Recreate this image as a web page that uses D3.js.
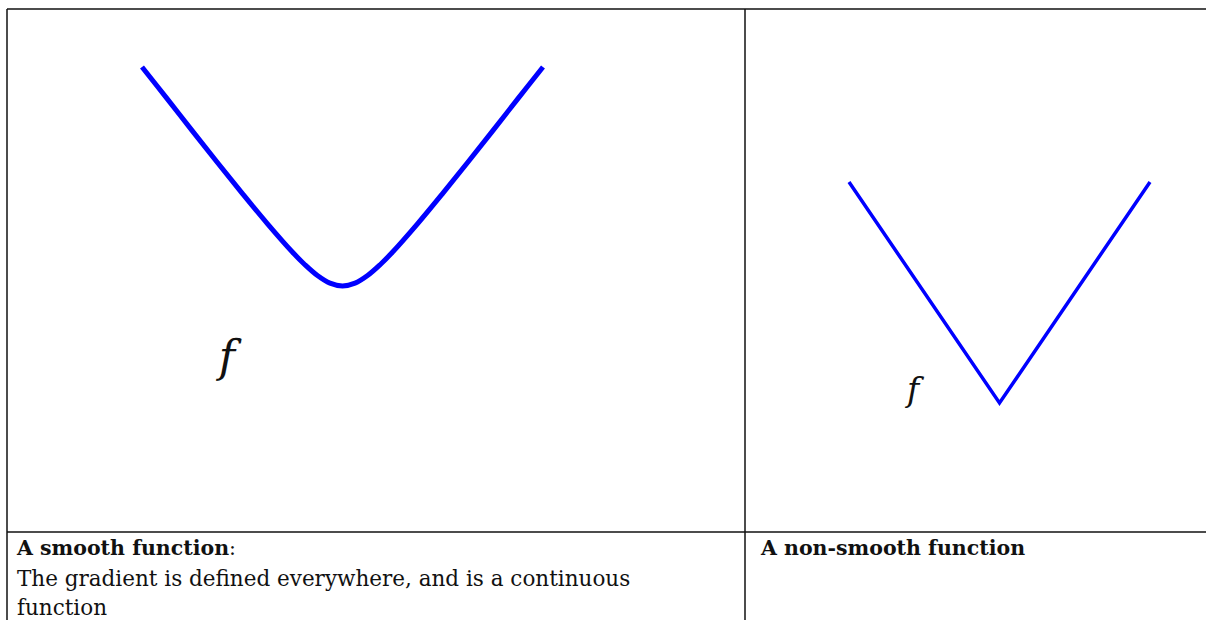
<!DOCTYPE html>
<html>
<head>
<meta charset="utf-8">
<script src="https://cdn.jsdelivr.net/npm/d3@7"></script>
<style>
  html, body { margin: 0; padding: 0; background: #fff; }
  svg { display: block; }
</style>
</head>
<body>
<svg id="chart"></svg>
<script>
const smoothX = [-2, -1.75, -1.5, -1.25, -1, -0.75, -0.5, -0.375, -0.25, -0.125, 0,
                 0.125, 0.25, 0.375, 0.5, 0.75, 1, 1.25, 1.5, 1.75, 2];
const smoothY = [2.18, 1.865, 1.547, 1.232, 0.922, 0.621, 0.338, 0.212, 0.104, 0.028, 0,
                 0.028, 0.104, 0.212, 0.338, 0.621, 0.922, 1.232, 1.547, 1.865, 2.18];

// Non-smooth curve (|x|)
const kinkX = [-1, 0, 1];
const kinkY = [1, 0, 1];

const captions = [
  { title: "A smooth function", suffix: ":", lines: ["The gradient is defined everywhere, and is a continuous", "function"] },
  { title: "A non-smooth function", suffix: "", lines: [] }
];

const W = 1206, H = 620;
const svg = d3.select("#chart").attr("width", W).attr("height", H);

const tableLeft = 7, tableTop = 9, colSplit = 745, rowSplit = 532;
const serif = "'DejaVu Serif', serif";

// Table grid
const grid = svg.append("g").attr("stroke", "#111").attr("stroke-width", 1.5);
grid.append("line").attr("x1", tableLeft).attr("x2", W).attr("y1", tableTop).attr("y2", tableTop);
grid.append("line").attr("x1", tableLeft).attr("x2", W).attr("y1", rowSplit).attr("y2", rowSplit);
grid.append("line").attr("x1", tableLeft).attr("x2", tableLeft).attr("y1", tableTop).attr("y2", H);
grid.append("line").attr("x1", colSplit).attr("x2", colSplit).attr("y1", tableTop).attr("y2", H);

// Left panel: smooth curve
const xs = d3.scaleLinear().domain([-2, 2]).range([142, 543]);
const ys = d3.scaleLinear().domain([0, 2.18]).range([286, 67]);
svg.append("path")
  .datum(d3.zip(smoothX, smoothY))
  .attr("d", d3.line().x(d => xs(d[0])).y(d => ys(d[1])).curve(d3.curveCatmullRom.alpha(0.5)))
  .attr("fill", "none")
  .attr("stroke", "#0000ff")
  .attr("stroke-width", 5);

svg.append("text")
  .attr("x", 227).attr("y", 372)
  .attr("text-anchor", "middle")
  .style("font-family", serif)
  .style("font-style", "italic")
  .style("font-size", "44px")
  .style("fill", "#111")
  .text("f");

// Right panel: non-smooth curve
const xk = d3.scaleLinear().domain([-1, 1]).range([849, 1150]);
const yk = d3.scaleLinear().domain([0, 1]).range([403, 182]);
svg.append("path")
  .datum(d3.zip(kinkX, kinkY))
  .attr("d", d3.line().x(d => xk(d[0])).y(d => yk(d[1])))
  .attr("fill", "none")
  .attr("stroke", "#0000ff")
  .attr("stroke-width", 3.5)
  .attr("stroke-linejoin", "miter");

svg.append("text")
  .attr("x", 913).attr("y", 401)
  .attr("text-anchor", "middle")
  .style("font-family", serif)
  .style("font-style", "italic")
  .style("font-size", "33px")
  .style("fill", "#111")
  .text("f");

// Captions
const capX = [17, 761];
captions.forEach((c, i) => {
  const t = svg.append("text")
    .attr("x", capX[i]).attr("y", 555)
    .style("font-family", serif).style("font-size", "20.5px").style("fill", "#111");
  t.append("tspan").style("font-weight", "bold").text(c.title);
  if (c.suffix) t.append("tspan").text(c.suffix);
  c.lines.forEach((ln, j) => {
    svg.append("text")
      .attr("x", capX[i]).attr("y", 586 + j * 29)
      .style("font-family", serif).style("font-size", "21.5px").style("fill", "#111")
      .text(ln);
  });
});
</script>
</body>
</html>
